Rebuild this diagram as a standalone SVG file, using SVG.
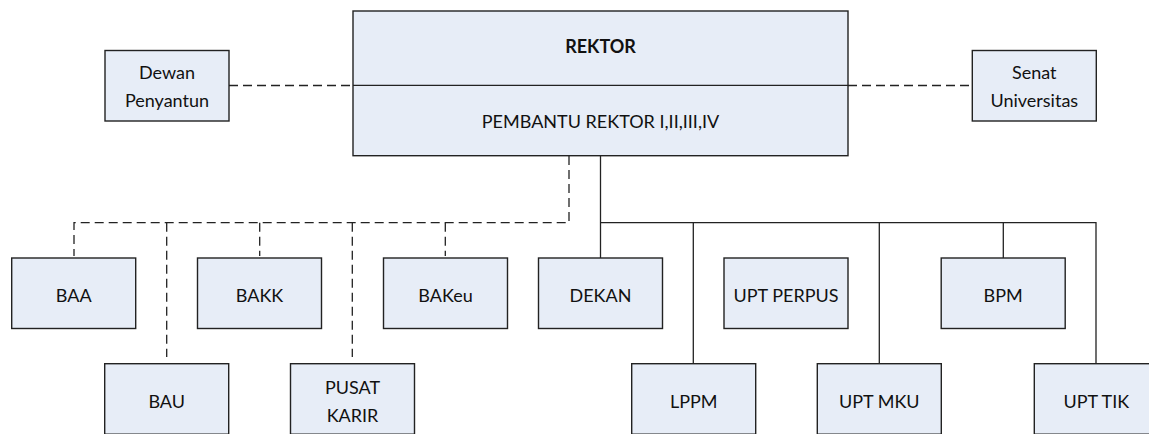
<svg xmlns="http://www.w3.org/2000/svg" width="1149" height="434" viewBox="0 0 1149 434">
<style>
.box{fill:#e7edf7;stroke:#222;stroke-width:1.4}
.t{font-family:Lato,"Liberation Sans",sans-serif;font-size:18px;fill:#111;text-anchor:middle}
.b{font-weight:bold}
.solid{fill:none;stroke:#222;stroke-width:1.3}
.dash{fill:none;stroke:#222;stroke-width:1.3;stroke-dasharray:9,5}
</style>
<rect width="1149" height="434" fill="#fff"/>
<g id="connectors">
<path class="dash" d="M229 85.5H353"/>
<path class="dash" d="M848 85.5H972"/>
<path class="dash" d="M569 156V222.7H74V256"/>
<path class="dash" d="M166.7 222.7V357"/>
<path class="dash" d="M259.7 222.7V256"/>
<path class="dash" d="M352.3 222.7V357"/>
<path class="dash" d="M445.3 222.7V256"/>
<path class="solid" d="M600.5 156V258"/>
<path class="solid" d="M600.5 222.7H1096V363.7"/>
<path class="solid" d="M693.3 222.7V363.7"/>
<path class="solid" d="M879.3 222.7V363.7"/>
<path class="solid" d="M1003.3 222.7V258"/>
</g>
<g id="rektor">
<rect class="box" x="353" y="11" width="495" height="144.7"/>
<path class="solid" d="M353 85.3H848"/>
<text class="t b" x="600.5" y="52.7">REKTOR</text>
<text class="t" x="600.5" y="128">PEMBANTU REKTOR I,II,III,IV</text>
</g>
<g id="dewan">
<rect class="box" x="105" y="50.5" width="124" height="70.5"/>
<text class="t" x="167" y="79.3">Dewan</text>
<text class="t" x="167" y="106.7">Penyantun</text>
</g>
<g id="senat">
<rect class="box" x="972.3" y="50.5" width="124" height="70.5"/>
<text class="t" x="1034.3" y="79.3">Senat</text>
<text class="t" x="1034.3" y="106.7">Universitas</text>
</g>
<g id="baa"><rect class="box" x="11.7" y="258" width="124" height="70.5"/><text class="t" x="73.7" y="301.7">BAA</text></g>
<g id="bakk"><rect class="box" x="197.5" y="258" width="124" height="70.5"/><text class="t" x="259.5" y="301.7">BAKK</text></g>
<g id="bakeu"><rect class="box" x="383.5" y="258" width="124" height="70.5"/><text class="t" x="445.5" y="301.7">BAKeu</text></g>
<g id="dekan"><rect class="box" x="538.5" y="258" width="124" height="70.5"/><text class="t" x="600.5" y="301.7">DEKAN</text></g>
<g id="uptperpus"><rect class="box" x="724" y="258" width="124" height="70.5"/><text class="t" x="786" y="301.7">UPT PERPUS</text></g>
<g id="bpm"><rect class="box" x="941.2" y="258" width="124" height="70.5"/><text class="t" x="1003.2" y="301.7">BPM</text></g>
<g id="bau"><rect class="box" x="104.7" y="363.7" width="124" height="70.5"/><text class="t" x="166.7" y="408.3">BAU</text></g>
<g id="pusatkarir"><rect class="box" x="290.5" y="363.7" width="124" height="70.5"/><text class="t" x="352.5" y="394.3">PUSAT</text><text class="t" x="352.5" y="421.7">KARIR</text></g>
<g id="lppm"><rect class="box" x="631.7" y="363.7" width="124" height="70.5"/><text class="t" x="693.7" y="408.3">LPPM</text></g>
<g id="uptmku"><rect class="box" x="817.3" y="363.7" width="124" height="70.5"/><text class="t" x="879.3" y="408.3">UPT MKU</text></g>
<g id="upttik"><rect class="box" x="1034.3" y="363.7" width="124" height="70.5"/><text class="t" x="1096.3" y="408.3">UPT TIK</text></g>
</svg>
